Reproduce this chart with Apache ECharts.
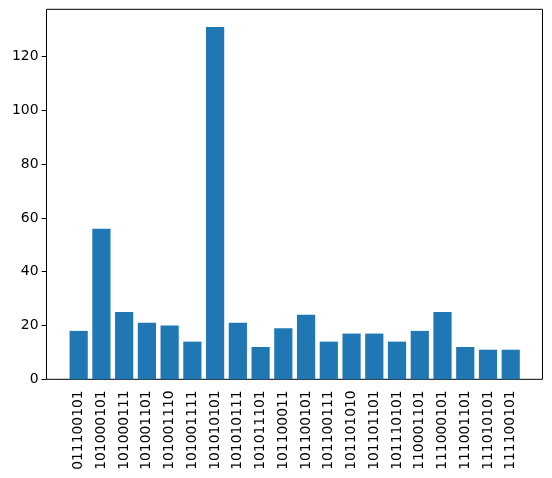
<!DOCTYPE html>
<html>
<head>
<meta charset="utf-8">
<script src="https://cdn.jsdelivr.net/npm/echarts@6/dist/echarts.min.js"></script>
<style>
  html, body { margin: 0; padding: 0; background: #fff; }
  #chart { width: 552px; height: 478px; }
</style>
</head>
<body>
<div id="chart"></div>
<script>
var categories = ['011100101', '101000101', '101000111', '101001101', '101001110',
    '101001111', '101010101', '101010111', '101011101', '101100011',
    '101100101', '101100111', '101101010', '101101101', '101110101',
    '110001101', '111000101', '111001101', '111010101', '111100101']
var counts = [18, 56, 25, 21, 20, 14, 131, 21, 12, 19, 24, 14, 17, 17, 14, 18, 25, 12, 11, 11]
var yMax = 137.55

var font = 'DejaVu Sans'
var myChart = echarts.init(document.getElementById('chart'))

myChart.setOption({
    animation: false,
    textStyle: { fontFamily: font },
    grid: [
        // the axes frame
        { left: 46.5, right: 9.5, top: 9.3, bottom: 98.7, show: true, borderColor: '#000', borderWidth: 1, backgroundColor: 'transparent' },
        // the bars, inset like matplotlib's margins
        { left: 67.3, right: 29.9, top: 9.3, bottom: 98.7 }
    ],
    xAxis: [
        { gridIndex: 0, type: 'value', show: false, min: 0, max: 1 },
        {
            gridIndex: 1,
            type: 'category',
            data: categories,
            axisLine: { show: false },
            axisTick: { alignWithLabel: true, length: 4.9, lineStyle: { color: '#000' } },
            axisLabel: { rotate: 90, interval: 0, margin: 11, color: '#000', fontSize: 13.9, fontFamily: font }
        }
    ],
    yAxis: [
        {
            gridIndex: 0,
            type: 'value',
            min: 0,
            max: yMax,
            interval: 20,
            splitLine: { show: false },
            axisLine: { show: false },
            axisTick: { show: true, length: 4.9, lineStyle: { color: '#000' } },
            axisLabel: { margin: 8, color: '#000', fontSize: 13.9, fontFamily: font,
                showMaxLabel: false }
        },
        { gridIndex: 1, type: 'value', min: 0, max: yMax, show: false, splitLine: { show: false } }
    ],
    series: [{
        type: 'bar',
        xAxisIndex: 1,
        yAxisIndex: 1,
        data: counts,
        barWidth: '80%',
        itemStyle: { color: '#1f77b4' }
    }]
})
</script>
</body>
</html>
